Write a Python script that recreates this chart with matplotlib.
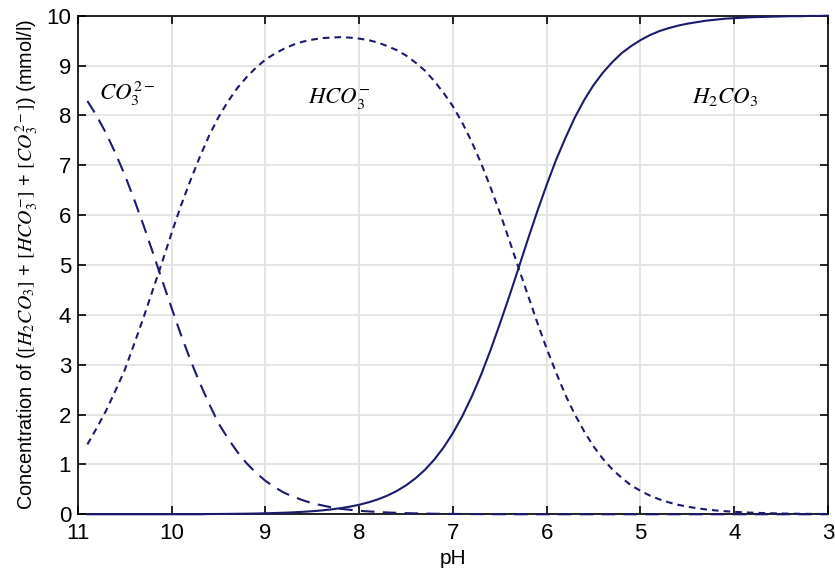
import matplotlib
matplotlib.use("Agg")
import matplotlib.pyplot as plt

plt.rcParams["font.family"] = ["Liberation Sans", "DejaVu Sans"]
plt.rcParams["mathtext.fontset"] = "stix"

# pH values where the curves were read
ph = [10.9, 10.8, 10.7, 10.6, 10.5, 10.4, 10.3, 10.2, 10.1, 10.0,
      9.9, 9.8, 9.7, 9.6, 9.5, 9.4, 9.3, 9.2, 9.1, 9.0,
      8.9, 8.8, 8.7, 8.6, 8.5, 8.4, 8.3, 8.2, 8.1, 8.0,
      7.9, 7.8, 7.7, 7.6, 7.5, 7.4, 7.3, 7.2, 7.1, 7.0,
      6.9, 6.8, 6.7, 6.6, 6.5, 6.4, 6.3, 6.2, 6.1, 6.0,
      5.9, 5.8, 5.7, 5.6, 5.5, 5.4, 5.3, 5.2, 5.1, 5.0,
      4.9, 4.8, 4.7, 4.6, 4.5, 4.4, 4.3, 4.2, 4.1, 4.0,
      3.9, 3.8, 3.7, 3.6, 3.5, 3.4, 3.3, 3.2, 3.1, 3.0]

# concentrations in mmol/l
h2co3 = [0, 0, 0, 0, 0, 0, 0, 0, 0, 0,
         0, 0, 0, 0.005, 0.006, 0.008, 0.01, 0.012, 0.015, 0.02,
         0.025, 0.031, 0.039, 0.049, 0.061, 0.077, 0.097, 0.122, 0.153, 0.191,
         0.24, 0.30, 0.374, 0.467, 0.581, 0.721, 0.89, 1.095, 1.341, 1.631,
         1.97, 2.36, 2.80, 3.29, 3.82, 4.37, 4.94, 5.52, 6.08, 6.61,
         7.11, 7.55, 7.96, 8.31, 8.61, 8.86, 9.07, 9.25, 9.39, 9.51,
         9.61, 9.69, 9.75, 9.80, 9.84, 9.87, 9.90, 9.92, 9.94, 9.95,
         9.96, 9.97, 9.975, 9.98, 9.985, 9.99, 9.99, 9.995, 9.995, 10.0]
hco3 = [1.40, 1.73, 2.08, 2.48, 2.90, 3.42, 3.95, 4.51, 5.07, 5.65,
        6.2, 6.7, 7.17, 7.6, 7.97, 8.28, 8.55, 8.77, 8.96, 9.12,
        9.24, 9.34, 9.42, 9.48, 9.52, 9.55, 9.56, 9.57, 9.56, 9.54,
        9.51, 9.46, 9.39, 9.31, 9.2, 9.06, 8.9, 8.69, 8.45, 8.18,
        7.85, 7.47, 7.04, 6.56, 6.05, 5.5, 4.94, 4.39, 3.84, 3.32,
        2.84, 2.39, 2.0, 1.66, 1.36, 1.11, 0.9, 0.73, 0.58, 0.47,
        0.375, 0.30, 0.24, 0.19, 0.153, 0.122, 0.097, 0.077, 0.062, 0.049,
        0.039, 0.031, 0.025, 0.02, 0.016, 0.012, 0.01, 0.008, 0.006, 0.005]
co3 = [8.29, 7.99, 7.64, 7.24, 6.80, 6.31, 5.79, 5.24, 4.68, 4.13,
       3.59, 3.09, 2.63, 2.21, 1.82, 1.52, 1.25, 1.02, 0.83, 0.67,
       0.54, 0.43, 0.35, 0.28, 0.22, 0.18, 0.14, 0.11, 0.09, 0.07,
       0.057, 0.045, 0.036, 0.029, 0.023, 0.018, 0.014, 0.011, 0.009, 0.007,
       0.005, 0.004, 0.003, 0.002, 0.001, 0, 0, 0, 0, 0,
       0, 0, 0, 0, 0, 0, 0, 0, 0, 0,
       0, 0, 0, 0, 0, 0, 0, 0, 0, 0,
       0, 0, 0, 0, 0, 0, 0, 0, 0, 0]

xticks = [11, 10, 9, 8, 7, 6, 5, 4, 3]
yticks = list(range(0, 11))

color = "#1b1b6e"

fig = plt.figure(figsize=(8.35, 5.79), dpi=100)
ax = fig.add_axes([0.0934, 0.1118, 0.8982, 0.8611])

ax.plot(ph, h2co3, color=color, lw=1.5, zorder=3, clip_on=False)
ax.plot(ph, hco3, color=color, lw=1.5, dashes=(3.2, 2.4), zorder=3, clip_on=False)
ax.plot(ph, co3, color=color, lw=1.5, dashes=(6.5, 4), zorder=3, clip_on=False)

ax.text(10.47, 8.31, r"$CO_3^{2-}$", fontsize=16.5, ha="center", va="baseline")
ax.text(8.215, 8.25, r"$HCO_3^{-}$", fontsize=16.5, ha="center", va="baseline")
ax.text(4.094, 8.25, r"$H_2CO_3$", fontsize=16.5, ha="center", va="baseline")

ax.set_xlim(11, 3)
ax.set_ylim(0, 10)
ax.set_xticks(xticks)
ax.set_yticks(yticks)
ax.tick_params(direction="in", length=6, width=1.2, labelsize=16,
               top=True, right=True)
ax.tick_params(axis="x", pad=6)
ax.tick_params(axis="y", pad=5)
ax.grid(color="#e2e2e2", lw=1.3)
ax.set_axisbelow(True)
for s in ax.spines.values():
    s.set_linewidth(1.2)

ax.set_xlabel("pH", fontsize=15, labelpad=4)
ax.set_ylabel(r"Concentration of ($[H_2CO_3]$ + $[HCO_3^{-}]$ + $[CO_3^{2-}]$) (mmol/l)",
              fontsize=14.3, labelpad=4)

fig.savefig("out.png", dpi=100)
